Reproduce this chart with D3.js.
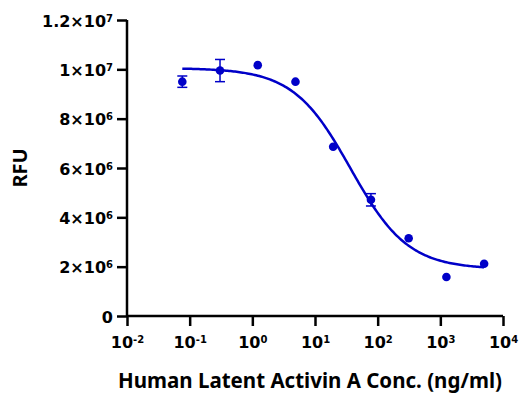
<!DOCTYPE html>
<html>
<head>
<meta charset="utf-8">
<script src="https://cdn.jsdelivr.net/npm/d3@7"></script>
<style>
  body { margin: 0; background: #fff; }
  text { font-family: "Noto Sans", "Open Sans", sans-serif; font-weight: bold; fill: #000; }
  .tick text { font-family: "DejaVu Sans", sans-serif; }
</style>
</head>
<body>
<div id="chart"></div>
<script>
// concentrations (ng/ml), 4-fold dilution series
const conc = [0.0763, 0.305, 1.22, 4.88, 19.5, 78.1, 312.5, 1250, 5000];
const rfu = [9.5e6, 9.95e6, 10.17e6, 9.5e6, 6.86e6, 4.71e6, 3.15e6, 1.58e6, 2.12e6];
const rfuErr = [0.23e6, 0.45e6, 0, 0, 0, 0.25e6, 0, 0, 0];

// 4PL fit parameters
const fitTop = 10.05e6;
const fitBottom = 1.9e6;
const fitEC50 = 37;
const fitHill = 0.95;

const xTickExp = [-2, -1, 0, 1, 2, 3, 4];
const yTicks = [0, 2e6, 4e6, 6e6, 8e6, 1e7, 1.2e7];

const width = 520, height = 394;
const color = '#0000c8';

const svg = d3.select('#chart').append('svg')
  .attr('width', width)
  .attr('height', height);

const x = d3.scaleLog().domain([1e-2, 1e4]).range([127, 503]);
const y = d3.scaleLinear().domain([0, 1.2e7]).range([316, 20]);

// y axis
const yAxis = svg.append('g')
  .attr('transform', `translate(${x.range()[0]},0)`)
  .call(d3.axisLeft(y).tickValues(yTicks).tickSize(10).tickSizeOuter(0).tickFormat(''));
yAxis.selectAll('.domain, line').attr('stroke', '#000').attr('stroke-width', 2.5);
yAxis.select('.domain').attr('d', `M0,${y(1.2e7)}V${y(0)}`);

yAxis.selectAll('.tick').each(function(d) {
  const t = d3.select(this).append('text')
    .attr('x', -14).attr('dy', '0.38em')
    .attr('text-anchor', 'end')
    .style('font-size', '16px');
  if (d === 0) { t.text('0'); return; }
  const e = Math.floor(Math.log10(d) + 1e-9);
  const m = +(d / Math.pow(10, e)).toFixed(1);
  t.append('tspan').text(m + '\u00d710');
  t.append('tspan').attr('dy', '-0.5em').style('font-size', '10px').text(e);
});

// x axis
const xAxis = svg.append('g')
  .attr('transform', `translate(0,${y(0)})`)
  .call(d3.axisBottom(x).tickValues(xTickExp.map(e => Math.pow(10, e)))
    .tickSize(10).tickSizeOuter(0).tickFormat(''));
xAxis.selectAll('.domain, line').attr('stroke', '#000').attr('stroke-width', 2.5);
xAxis.select('.domain').attr('d', `M${x.range()[0]},0H${x.range()[1]}`);

xAxis.selectAll('.tick').each(function(d) {
  const e = Math.round(Math.log10(d));
  const t = d3.select(this).append('text')
    .attr('y', 32)
    .attr('text-anchor', 'middle')
    .style('font-size', '16px');
  t.append('tspan').text('10');
  t.append('tspan').attr('dy', '-0.5em').style('font-size', '10px').text(e);
});

// titles
svg.append('text')
  .attr('transform', 'translate(27,168) rotate(-90)')
  .attr('text-anchor', 'middle')
  .style('font-size', '20px')
  .text('RFU');

svg.append('text')
  .attr('x', 310).attr('y', 388)
  .attr('text-anchor', 'middle')
  .style('font-size', '20.5px')
  .text('Human Latent Activin A Conc. (ng/ml)');

// fitted curve
const fit = c => fitBottom + (fitTop - fitBottom) / (1 + Math.pow(c / fitEC50, fitHill));
const curveX = d3.range(0, 201).map(i => {
  const lo = Math.log10(conc[0]), hi = Math.log10(conc[conc.length - 1]);
  return Math.pow(10, lo + (hi - lo) * i / 200);
});
svg.append('path')
  .datum(curveX)
  .attr('fill', 'none')
  .attr('stroke', color)
  .attr('stroke-width', 2.5)
  .attr('d', d3.line().x(c => x(c)).y(c => y(fit(c))));

// error bars
const data = conc.map((c, i) => ({ c, v: rfu[i], e: rfuErr[i] }));
const eb = svg.append('g').selectAll('g').data(data.filter(d => d.e > 0)).enter().append('g')
  .attr('stroke', color).attr('stroke-width', 1.5);
eb.append('line')
  .attr('x1', d => x(d.c)).attr('x2', d => x(d.c))
  .attr('y1', d => y(d.v - d.e)).attr('y2', d => y(d.v + d.e));
eb.append('line')
  .attr('x1', d => x(d.c) - 5).attr('x2', d => x(d.c) + 5)
  .attr('y1', d => y(d.v + d.e)).attr('y2', d => y(d.v + d.e));
eb.append('line')
  .attr('x1', d => x(d.c) - 5).attr('x2', d => x(d.c) + 5)
  .attr('y1', d => y(d.v - d.e)).attr('y2', d => y(d.v - d.e));

// points
svg.append('g').selectAll('circle').data(data).enter().append('circle')
  .attr('cx', d => x(d.c))
  .attr('cy', d => y(d.v))
  .attr('r', 4.3)
  .attr('fill', color);
</script>
</body>
</html>
